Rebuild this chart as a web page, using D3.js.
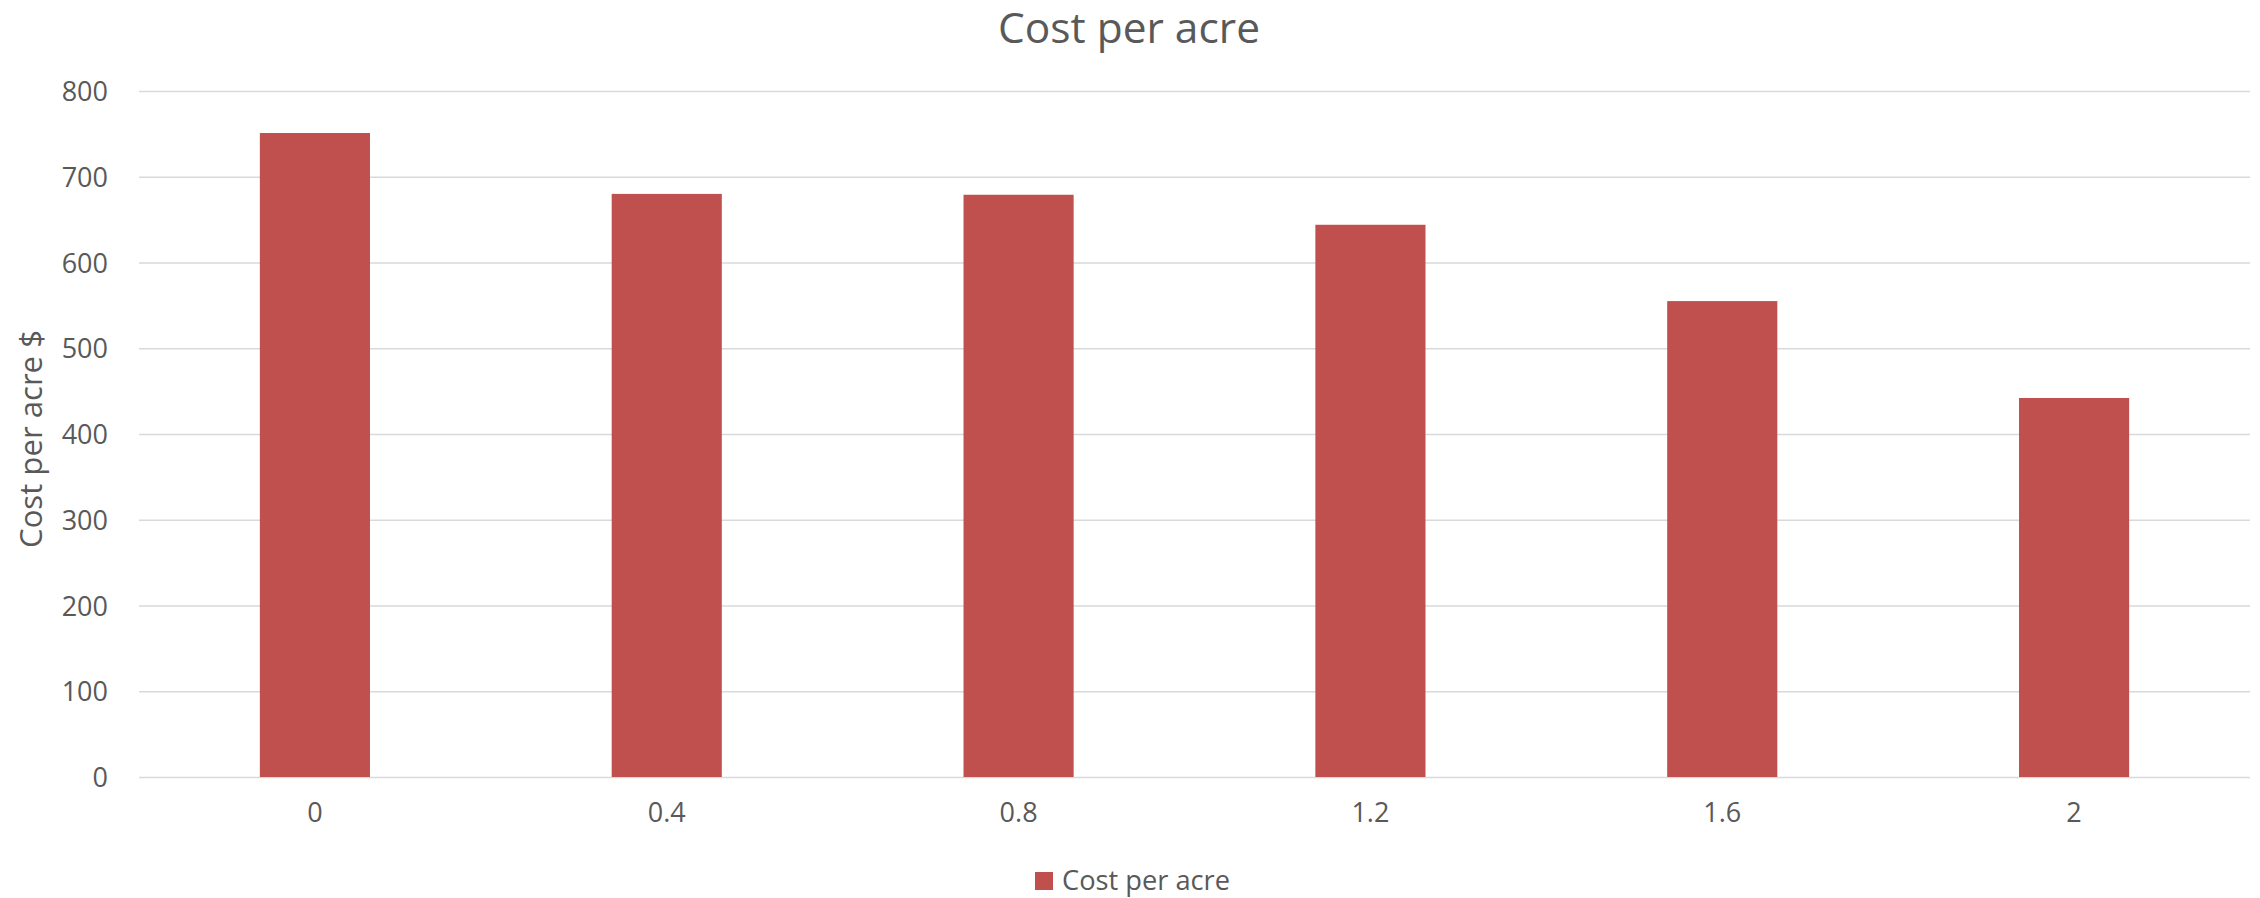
<!DOCTYPE html>
<html>
<head>
<meta charset="utf-8">
<script src="https://cdn.jsdelivr.net/npm/d3@7"></script>
<style>
  html, body { margin: 0; padding: 0; background: #fff; }
  svg { display: block; }
  text { font-family: "Open Sans", "Noto Sans", sans-serif; fill: #595959; }
</style>
</head>
<body>
<svg id="chart" width="2260" height="898"></svg>
<script>
const categories = ["0", "0.4", "0.8", "1.2", "1.6", "2"];
const costPerAcre = [751, 680, 679, 644, 555, 442];
const yTicks = [0, 100, 200, 300, 400, 500, 600, 700, 800];
const seriesName = "Cost per acre";
const chartTitle = "Cost per acre";
const yAxisTitle = "Cost per acre $";

const W = 2260, H = 898;
const margin = { left: 139, right: 10, top: 91, bottom: 121 };
const svg = d3.select("#chart");

const x = d3.scaleBand()
  .domain(categories)
  .range([margin.left, W - margin.right])
  .paddingInner(0.687)
  .paddingOuter(0.687 / 2);

const y = d3.scaleLinear()
  .domain([0, 800])
  .range([H - margin.bottom, margin.top]);

// fit helper: sets font size so text width matches a target
function fit(sel, target) {
  const node = sel.node();
  const size = parseFloat(sel.attr("font-size"));
  const w = node.getComputedTextLength();
  sel.attr("font-size", (size * target / w).toFixed(2));
  return sel;
}

// gridlines
const yAxis = d3.axisLeft(y).tickValues(yTicks).tickSize(-(W - margin.left - margin.right)).tickPadding(31);
const gy = svg.append("g")
  .attr("transform", `translate(${margin.left},0)`)
  .call(yAxis);
gy.select(".domain").remove();
gy.selectAll(".tick line").attr("stroke", "#d9d9d9").attr("stroke-width", 1.5);
gy.selectAll(".tick text")
  .attr("font-size", 27)
  .attr("fill", "#595959")
  .attr("dy", "0.36em")
  .style("font-family", '"Open Sans", sans-serif');

// bars
svg.append("g").selectAll("rect")
  .data(costPerAcre)
  .join("rect")
  .attr("x", (d, i) => x(categories[i]))
  .attr("width", x.bandwidth())
  .attr("y", d => y(d))
  .attr("height", d => y(0) - y(d))
  .attr("fill", "#c0504d");

// x axis labels
const xAxis = d3.axisBottom(x).tickSize(0).tickPadding(26);
const gx = svg.append("g")
  .attr("transform", `translate(0,${y(0)})`)
  .call(xAxis);
gx.select(".domain").remove();
gx.selectAll(".tick text")
  .attr("font-size", 27)
  .attr("fill", "#595959")
  .style("font-family", '"Open Sans", sans-serif');

// title
const t = svg.append("text")
  .attr("x", 1129)
  .attr("y", 43)
  .attr("text-anchor", "middle")
  .attr("font-size", 42)
  .text(chartTitle);
fit(t, 262);

// y axis title
const yt = svg.append("text")
  .attr("transform", `translate(42,${(330 + 548) / 2}) rotate(-90)`)
  .attr("text-anchor", "middle")
  .attr("font-size", 30)
  .text(yAxisTitle);
fit(yt, 218);

// legend
const lg = svg.append("g");
lg.append("rect")
  .attr("x", 1035).attr("y", 872)
  .attr("width", 18).attr("height", 18)
  .attr("fill", "#c0504d");
const lt = lg.append("text")
  .attr("x", 1062).attr("y", 890)
  .attr("font-size", 27)
  .text(seriesName);
fit(lt, 168);
</script>
</body>
</html>
